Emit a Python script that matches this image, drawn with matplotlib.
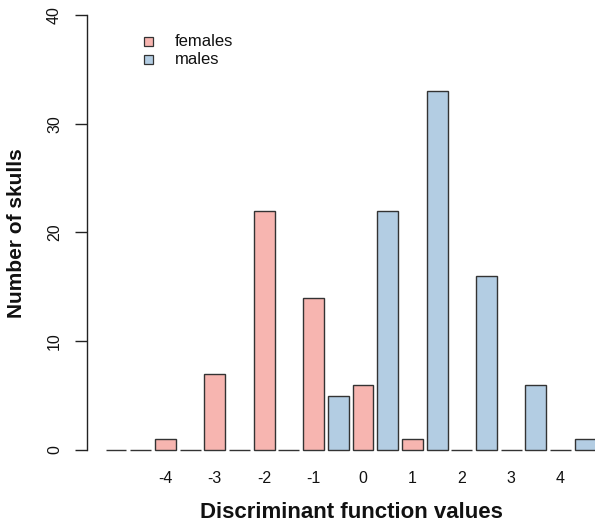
import matplotlib
matplotlib.use("Agg")
import matplotlib.pyplot as plt
from matplotlib.patches import Rectangle

plt.rcParams['font.family'] = ['Liberation Sans', 'DejaVu Sans']

# Data: counts per half-unit bin, females and males interleaved
bin_values = [-5, -4, -3, -2, -1, 0, 1, 2, 3, 4]
females = [0, 1, 7, 22, 14, 6, 1, 0, 0, 0]
males = [0, 0, 0, 0, 5, 22, 33, 16, 6, 1]
tick_labels = ["-4", "-3", "-2", "-1", "0", "1", "2", "3", "4"]
y_ticks = [0, 10, 20, 30, 40]
legend_labels = ["females", "males"]

female_color = "#F7B5B0"
male_color = "#B3CDE3"
edge = "#333333"

W, H = 595, 525
fig = plt.figure(figsize=(W / 100, H / 100), dpi=100)

px0 = 116.0   # pixel center of first slot
pitch = 24.7  # pixel pitch per slot
left_px, right_px = 87, 595
top_px, bottom_px = 15, 450
ax = fig.add_axes([left_px / W, (H - bottom_px) / H, (right_px - left_px) / W, (bottom_px - top_px) / H])

f_x = [2 * k for k in range(len(bin_values))]
m_x = [2 * k + 1 for k in range(len(bin_values))]
bw = 0.85
ax.bar(f_x, females, width=bw, color=female_color, edgecolor=edge, linewidth=1.0, clip_on=False)
ax.bar(m_x, males, width=bw, color=male_color, edgecolor=edge, linewidth=1.0, clip_on=False)

ax.set_xlim((left_px - px0) / pitch, (right_px - px0) / pitch)
ax.set_ylim(0, 40)

for s in ['top', 'right', 'bottom']:
    ax.spines[s].set_visible(False)
ax.spines['left'].set_linewidth(1.0)
ax.spines['left'].set_color("#222222")

ax.set_yticks(y_ticks)
ax.set_yticklabels([str(v) for v in y_ticks], rotation=90, va='center', fontsize=11.5)
ax.tick_params(axis='y', length=9, width=1.0, pad=9, colors="#222222", labelcolor="#111111")

tick_pos = [2 * (i + 1) for i in range(len(tick_labels))]
ax.set_xticks(tick_pos)
ax.set_xticklabels(tick_labels, fontsize=11.5)
ax.tick_params(axis='x', length=0, pad=15, labelcolor="#111111")

fig.text(351 / W, 1 - 512 / H, "Discriminant function values", ha='center', va='center',
         fontsize=16, fontweight='bold', color="#111111")
fig.text(17 / W, 1 - 233 / H, "Number of skulls", ha='center', va='center', rotation=90,
         fontsize=15, fontweight='bold', color="#111111")

# legend (manual, R-style)
leg_colors = [female_color, male_color]
leg_y = [41, 59]
for lab, col, yy in zip(legend_labels, leg_colors, leg_y):
    fig.patches.append(Rectangle((144 / W, 1 - (yy + 4.5) / H), 9.5 / W, 9 / H,
                                 transform=fig.transFigure, facecolor=col, edgecolor=edge,
                                 linewidth=0.9))
    fig.text(175 / W, 1 - yy / H, lab, ha='left', va='center', fontsize=12, color="#111111")

fig.savefig("out.png", dpi=100)
